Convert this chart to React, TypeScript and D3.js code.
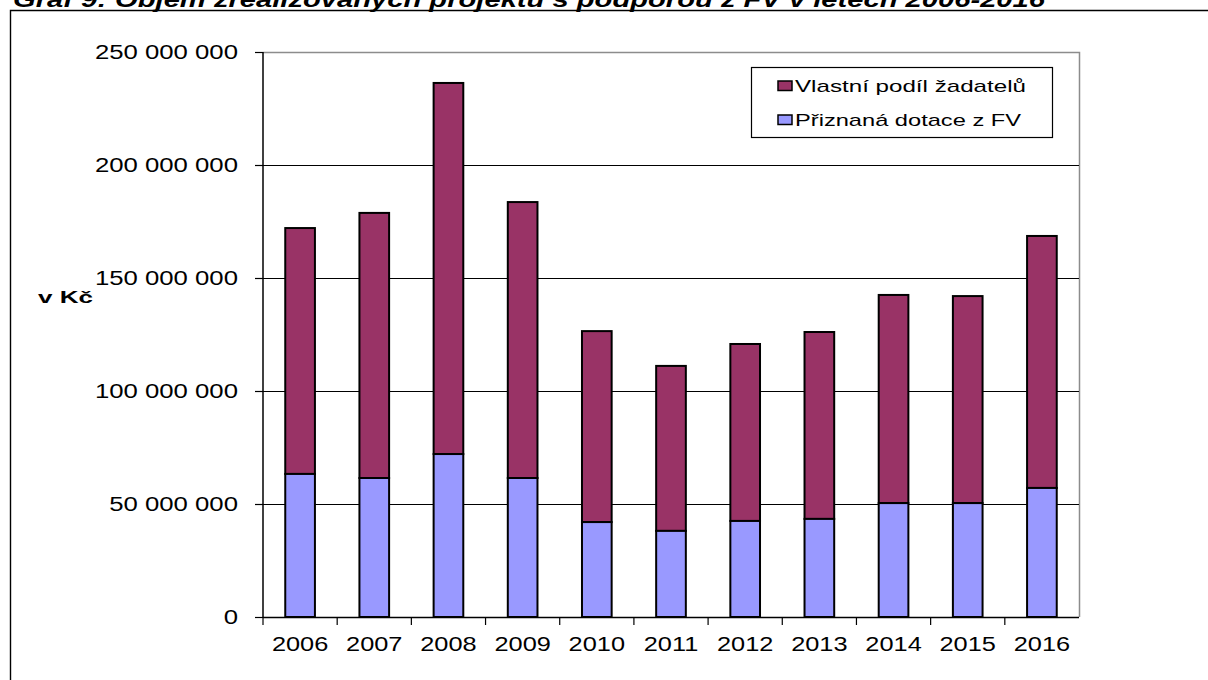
import * as d3 from "d3";

const YEARS = ["2006", "2007", "2008", "2009", "2010", "2011", "2012", "2013", "2014", "2015", "2016"];
// Přiznaná dotace z FV (Kč)
const DOTACE = [63300000, 61500000, 72100000, 61500000, 42000000, 38100000, 42500000, 43400000, 50400000, 50400000, 57100000];
// celkový objem projektů (Kč)
const CELKEM = [172100000, 178800000, 236300000, 183600000, 126500000, 111100000, 120800000, 126100000, 142500000, 142000000, 168600000];

const Y_TICKS = [0, 50000000, 100000000, 150000000, 200000000, 250000000];

const TITLE = "Graf 9: Objem zrealizovaných projektů s podporou z FV v letech 2006-2016";
const LEGEND = [
  { label: "Vlastní podíl žadatelů", color: "#993366", len: 231 },
  { label: "Přiznaná dotace z FV", color: "#9999ff", len: 226 },
];

const FONT = "'Liberation Sans', Arial, sans-serif";

export default function App() {
  const width = 1208;
  const height = 680;
  const plot = { left: 263, right: 1079, top: 52, bottom: 617 };

  const x = d3.scaleBand<string>()
    .domain(YEARS)
    .range([plot.left, plot.right])
    .paddingInner(0.6)
    .paddingOuter(0.3);

  const y = d3.scaleLinear()
    .domain([0, 250000000])
    .range([plot.bottom, plot.top]);

  const fmt = (v: number) => d3.format(",")(v).replace(/,/g, " ");
  const step = x.step();

  return (
    <div style={{ position: "fixed", left: 0, top: 0 }}>
      <svg width={width} height={height} style={{ display: "block", background: "#fff" }} fontFamily={FONT}>
        {/* title (cut off at top, as in the source) */}
        <text x={13} y={7} fontSize={22} fontWeight="bold" fontStyle="italic"
          textLength={1032} lengthAdjust="spacingAndGlyphs">{TITLE}</text>

        {/* outer frame */}
        <path d={`M10.5,${height} V10.5 H${width}`} fill="none" stroke="#000" strokeWidth={1.4} />

        {/* plot border */}
        <path d={`M${plot.left},${plot.top + 0.5} H${plot.right + 0.5} V${plot.bottom}`} fill="none" stroke="#8c8c8c" strokeWidth={1.5} />

        {/* gridlines */}
        {Y_TICKS.filter(t => t > 0 && t < 250000000).map(t => (
          <line key={t} x1={plot.left} x2={plot.right} y1={Math.round(y(t)) + 0.5} y2={Math.round(y(t)) + 0.5}
            stroke="#000" strokeWidth={1} />
        ))}

        {/* bars */}
        {YEARS.map((yr, i) => {
          const bx = x(yr)!;
          const bw = x.bandwidth();
          return (
            <g key={yr} stroke="#000" strokeWidth={2}>
              <rect x={bx} y={y(CELKEM[i])} width={bw} height={y(DOTACE[i]) - y(CELKEM[i])} fill="#993366" />
              <rect x={bx} y={y(DOTACE[i])} width={bw} height={y(0) - y(DOTACE[i])} fill="#9999ff" />
            </g>
          );
        })}

        {/* axes */}
        <line x1={plot.left} x2={plot.left} y1={plot.top} y2={plot.bottom + 1} stroke="#000" strokeWidth={1.5} />
        <line x1={plot.left} x2={plot.right} y1={plot.bottom + 0.5} y2={plot.bottom + 0.5} stroke="#000" strokeWidth={1.5} />

        {Y_TICKS.map(t => (
          <g key={t}>
            <line x1={plot.left - 8} x2={plot.left} y1={Math.round(y(t)) + 0.5} y2={Math.round(y(t)) + 0.5} stroke="#000" strokeWidth={1.2} />
            <text transform={`translate(238,${y(t) + 7}) scale(1.32,1)`} textAnchor="end" fontSize={19.5} fill="#000">
              {fmt(t)}
            </text>
          </g>
        ))}

        {YEARS.map((yr, i) => (
          <g key={yr}>
            <line x1={plot.left + i * step} x2={plot.left + i * step} y1={plot.bottom} y2={plot.bottom + 8} stroke="#000" strokeWidth={1.2} />
            <text transform={`translate(${x(yr)! + x.bandwidth() / 2},651) scale(1.3,1)`} textAnchor="middle" fontSize={19.5} fill="#000">
              {yr}
            </text>
          </g>
        ))}

        {/* y axis title */}
        <text x={38} y={303} fontSize={17} fontWeight="bold" textLength={55} lengthAdjust="spacingAndGlyphs">v Kč</text>

        {/* legend */}
        <rect x={751.5} y={67.5} width={301} height={70} fill="#fff" stroke="#000" strokeWidth={1.2} />
        {LEGEND.map((l, i) => (
          <g key={l.label} transform={`translate(0,${i * 34})`}>
            <rect x={778} y={81} width={14} height={9.5} fill={l.color} stroke="#000" strokeWidth={1.5} />
            <text x={795} y={92} fontSize={17} textLength={l.len} lengthAdjust="spacingAndGlyphs">{l.label}</text>
          </g>
        ))}
      </svg>
    </div>
  );
}
